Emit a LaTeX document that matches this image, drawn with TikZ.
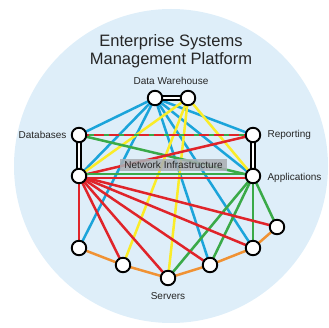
\documentclass[tikz,border=0pt]{standalone}
\usepackage{fontspec}
\setmainfont{Liberation Sans}
\definecolor{bgblue}{RGB}{222,238,249}
\definecolor{lineblue}{RGB}{27,164,218}
\definecolor{linered}{RGB}{224,36,42}
\definecolor{linegreen}{RGB}{58,170,72}
\definecolor{lineyellow}{RGB}{250,236,40}
\definecolor{lineorange}{RGB}{240,146,52}
\definecolor{labelgray}{RGB}{170,175,180}
\begin{document}
\begin{tikzpicture}[x=1pt,y=-1pt,
  hub/.style={circle,draw=black,fill=white,line width=1.9pt,minimum size=14.5pt,inner sep=0pt},
  pin/.style={inner sep=0pt,minimum size=0pt},
  link/.style={line width=2.5pt},
  bl/.style={link,draw=lineblue},
  rd/.style={link,draw=linered},
  gr/.style={link,draw=linegreen},
  yl/.style={link,draw=lineyellow},
  org/.style={link,draw=lineorange},
  bar/.style={draw=black,line width=1.6pt,double=white,double distance=2.6pt},
  lbl/.style={font=\fontsize{10}{12}\selectfont,text=black!85}]
\useasboundingbox (0,0) rectangle (329,328);
\fill[bgblue] (171,166) circle[radius=157];

% title
\node[font=\fontsize{16.5}{17.5}\selectfont,text=black!85,align=center] (title) at (171,51)
  {Enterprise Systems\\Management Platform};

% hub positions (drawn last, above the links)
\node[pin] (dwl) at (155,98) {};
\node[pin] (dwr) at (188,98) {};
\node[pin] (db1) at (79,135) {};
\node[pin] (db2) at (79,176) {};
\node[pin] (rep) at (253,135) {};
\node[pin] (app) at (253,176) {};
\node[pin] (s1) at (79,248) {};
\node[pin] (s2) at (123,265) {};
\node[pin] (s3) at (168,278) {};
\node[pin] (s4) at (210,265) {};
\node[pin] (s5) at (253,248) {};
\node[pin] (s6) at (277,227) {};

% labels
\node[lbl] (ldw) at (171,81) {Data Warehouse};
\node[lbl,anchor=east] (ldb) at (70,135) {Databases};
\node[lbl,anchor=west] (lrep) at (264,135) {Reporting};
\node[lbl,anchor=west] (lapp) at (264,178) {Applications};
\node[lbl] (lsrv) at (168,296) {Servers};

% server ring
\draw[org] (s1) -- (s2) -- (s3) -- (s4) -- (s5) -- (s6);

% data warehouse feeds
\foreach \t in {db1,db2,s1,s4,s5,rep,app}
  \draw[bl] (dwl) -- (\t);
\foreach \t in {db2,s2,s3,app}
  \draw[yl] (dwr) -- (\t);

% applications to servers
\foreach \t in {s3,s4,s5,s6}
  \draw[gr] (app) -- (\t);
\draw[gr] (db1) -- (app);

% databases to servers and services
\foreach \t in {s1,s2,s3,s4,s5,s6,rep}
  \draw[rd] (db2) -- (\t);
\draw[gr] ([yshift=2pt]db2.center) -- ([yshift=2pt]app.center);
\draw[rd] ([yshift=-2pt]db2.center) -- ([yshift=-2pt]app.center);
\draw[gr] (db1) -- (rep);
\draw[rd,dash pattern=on 10pt off 5pt] (db1) -- (rep);

% network label
\node[fill=labelgray,fill opacity=0.88,text opacity=1,lbl,inner xsep=3pt,inner ysep=2pt,
  minimum width=107pt,minimum height=12pt] (net) at (173.5,165) {Network Infrastructure};

% paired hubs
\draw[bar] (dwl) -- (dwr);
\draw[bar] (db1) -- (db2);
\draw[bar] (rep) -- (app);

% hubs
\foreach \n in {dwl,dwr,db1,db2,rep,app,s1,s2,s3,s4,s5,s6}
  \node[hub] at (\n) {};
\end{tikzpicture}
\end{document}
